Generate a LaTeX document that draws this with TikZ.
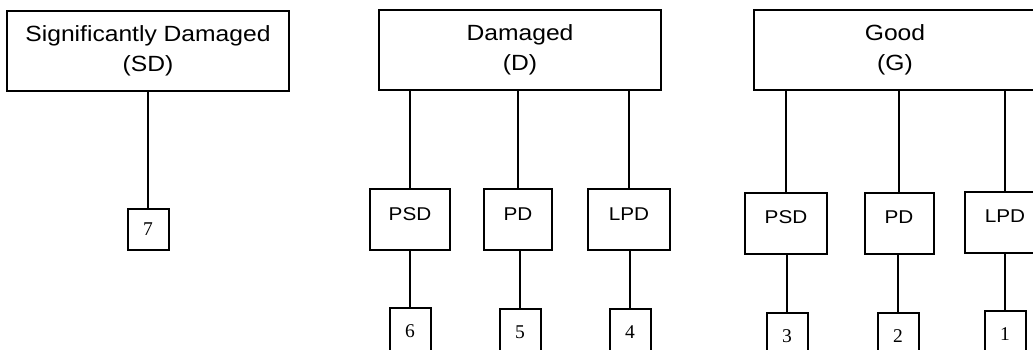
\documentclass[tikz,border=0pt]{standalone}
\usepackage{fontspec}
\setmainfont{Liberation Serif}
\newfontfamily\lab[FakeStretch=1.12]{Liberation Sans}
\begin{document}
\begin{tikzpicture}[x=1pt,y=-1pt,
  every node/.style={line width=2pt},
  topbox/.style={draw, minimum width=282pt, minimum height=80pt, align=center, inner sep=0pt,
    font=\lab\fontsize{22}{30}\selectfont},
  subbox/.style={draw, minimum height=61pt, text height=13pt, text depth=12pt, inner sep=0pt,
    font=\lab\fontsize{18.5}{20}\selectfont},
  numbox/.style={draw, minimum width=41pt, minimum height=41pt, inner sep=0pt,
    font=\fontsize{19.5}{20}\selectfont},
  lownum/.style={numbox, minimum height=47pt},
  link/.style={line width=2pt}]
\useasboundingbox (0,0) rectangle (1033,349);
\clip (0,0) rectangle (1033,349);
% top boxes
\node[topbox] (SD) at (148,50.5) {Significantly Damaged\\(SD)};
\node[topbox] (D) at (520,50) {Damaged\\(D)};
\node[topbox] (G) at (895,50) {Good\\(G)};
% sub boxes
\node[subbox, minimum width=80pt] (psdD) at (410,219.5) {PSD};
\node[subbox, minimum width=68pt] (pdD) at (518,219.5) {PD};
\node[subbox, minimum width=82pt] (lpdD) at (629,219.5) {LPD};
\node[subbox, minimum width=82pt] (psdG) at (786,223) {PSD};
\node[subbox, minimum width=69pt] (pdG) at (899,223) {PD};
\node[subbox, minimum width=80pt] (lpdG) at (1005,222) {LPD};
% number boxes
\node[numbox] (n7) at (148,229.5) {7};
\node[lownum] (n6) at (410,331.5) {6};
\node[lownum] (n5) at (520,332) {5};
\node[lownum] (n4) at (630,332.5) {4};
\node[lownum] (n3) at (787,336.5) {3};
\node[lownum] (n2) at (898,336.5) {2};
\node[lownum] (n1) at (1005,334.5) {1};
% connectors
\draw[link] (n7.north |- SD.south) -- (n7.north);
\draw[link] (psdD.north |- D.south) -- (psdD.north);
\draw[link] (pdD.north |- D.south) -- (pdD.north);
\draw[link] (lpdD.north |- D.south) -- (lpdD.north);
\draw[link] (psdG.north |- G.south) -- (psdG.north);
\draw[link] (pdG.north |- G.south) -- (pdG.north);
\draw[link] (lpdG.north |- G.south) -- (lpdG.north);
\draw[link] (n6.north |- psdD.south) -- (n6.north);
\draw[link] (n5.north |- pdD.south) -- (n5.north);
\draw[link] (n4.north |- lpdD.south) -- (n4.north);
\draw[link] (n3.north |- psdG.south) -- (n3.north);
\draw[link] (n2.north |- pdG.south) -- (n2.north);
\draw[link] (n1.north |- lpdG.south) -- (n1.north);
\end{tikzpicture}
\end{document}
